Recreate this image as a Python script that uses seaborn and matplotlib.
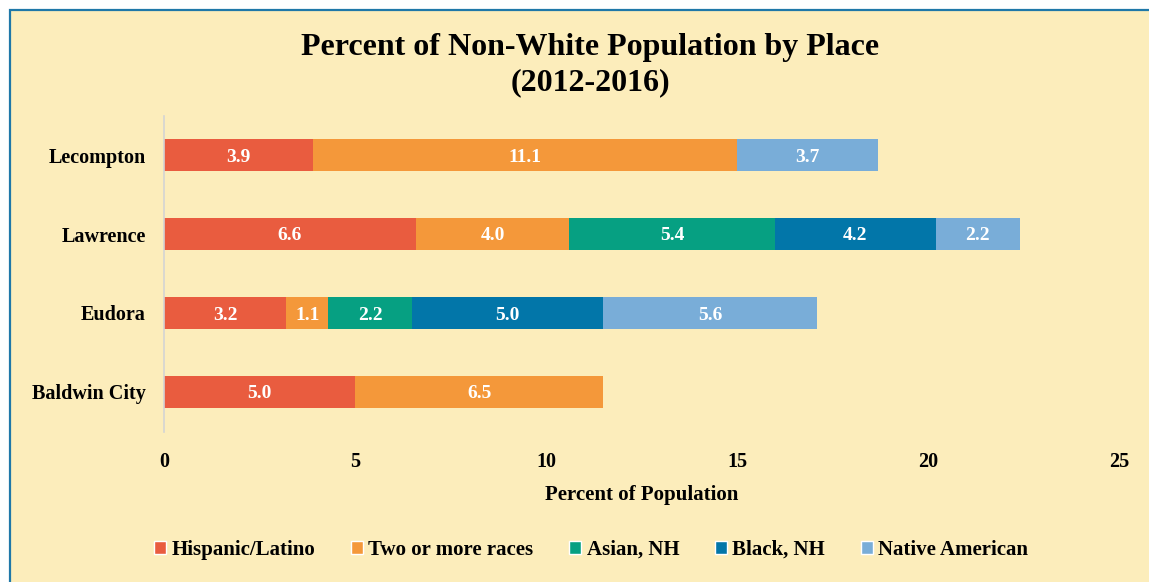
import pandas as pd
import numpy as np
import matplotlib.pyplot as plt
from matplotlib.patches import Rectangle, Patch
import seaborn as sns

# data ------------------------------------------------------------------------
places = ['Lecompton', 'Lawrence', 'Eudora', 'Baldwin City']
groups = ['Hispanic/Latino', 'Two or more races', 'Asian, NH', 'Black, NH', 'Native American']
hispanic = [3.9, 6.6, 3.2, 5.0]
two_more = [11.1, 4.0, 1.1, 6.5]
asian = [0.0, 5.4, 2.2, 0.0]
black = [0.0, 4.2, 5.0, 0.0]
native = [3.7, 2.2, 5.6, 0.0]
colors = ['#E95C3F', '#F4983A', '#06A082', '#0276A9', '#79ADD8']

bg = '#FCEDBB'
serif = ['Liberation Serif', 'DejaVu Serif']

sns.set_style('white')
plt.rcParams['font.family'] = serif
plt.rcParams['text.color'] = 'black'
plt.rcParams['xtick.color'] = 'black'
plt.rcParams['ytick.color'] = 'black'
plt.rcParams['axes.labelcolor'] = 'black'

df = pd.DataFrame({'place': places, groups[0]: hispanic, groups[1]: two_more,
                   groups[2]: asian, groups[3]: black, groups[4]: native})
cum = df[groups].cumsum(axis=1)

fig = plt.figure(figsize=(11.49, 5.82), dpi=100)
fig.patch.set_facecolor('white')
fig.patches.append(Rectangle((10 / 1149, -0.1), 1.2, 1.1 - 9.5 / 582, transform=fig.transFigure,
                             facecolor=bg, edgecolor='#1F78A8', linewidth=1.6, zorder=-10))

ax = fig.add_axes([164 / 1149, 1 - 431.5 / 582, (1119 - 164) / 1149, 316 / 582])
ax.set_facecolor('none')

# stacked bars: draw cumulative totals from the largest down
for g, c in reversed(list(zip(groups, colors))):
    sns.barplot(x=cum[g], y=df['place'], color=c, width=0.4, orient='h',
                saturation=1, ax=ax, linewidth=0)

for i, p in enumerate(places):
    for g in groups:
        v = df.loc[i, g]
        if v > 0:
            ax.text(cum.loc[i, g] - v / 2, i, f'{v:.1f}', ha='center', va='center_baseline',
                    color='white', fontweight='bold', fontsize=14)

ax.set_xlim(0, 25)
ax.set_ylim(3.5, -0.5)
ax.set_xticks([0, 5, 10, 15, 20, 25])
ax.tick_params(axis='both', length=0, labelsize=14.5)
ax.tick_params(axis='x', pad=15)
ax.tick_params(axis='y', pad=13)
for lab in ax.get_xticklabels() + ax.get_yticklabels():
    lab.set_fontweight('bold')
ax.set_ylabel('')
ax.set_xlabel('Percent of Population', fontsize=15, fontweight='bold', labelpad=9)
for s in ['top', 'right', 'bottom']:
    ax.spines[s].set_visible(False)
ax.spines['left'].set_color('#D4D4D4')
ax.spines['left'].set_linewidth(1.2)

fig.text(590 / 1149, 1 - 47 / 582, 'Percent of Non-White Population by Place', ha='center', va='center',
         fontsize=23, fontweight='bold')
fig.text(590 / 1149, 1 - 83 / 582, '(2012-2016)', ha='center', va='center',
         fontsize=23, fontweight='bold')

handles = [Patch(facecolor=c, label=g) for g, c in zip(groups, colors)]
fig.legend(handles=handles, loc='center', bbox_to_anchor=(591 / 1149, 1 - 550 / 582), ncol=5,
           frameon=False, prop={'weight': 'bold', 'size': 15}, handlelength=0.6,
           handleheight=0.6, handletextpad=0.25, columnspacing=1.7)

fig.savefig('out.png', dpi=100, facecolor=fig.get_facecolor())
